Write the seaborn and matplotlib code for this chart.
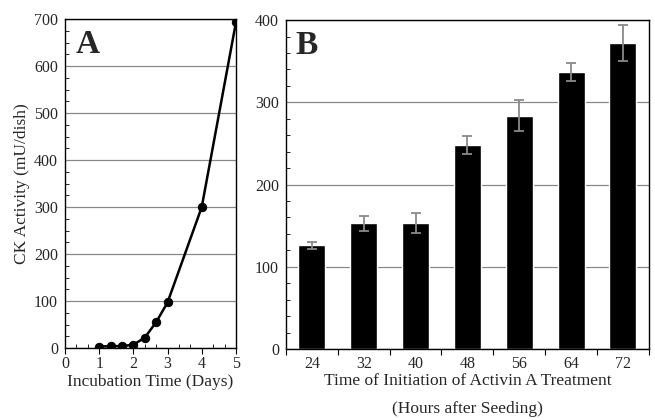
import numpy as np
import pandas as pd
import matplotlib
matplotlib.use('Agg')
import matplotlib.pyplot as plt
import seaborn as sns
from matplotlib.ticker import MultipleLocator, FixedLocator

# Panel A data
days = [1, 1.333, 1.667, 2, 2.333, 2.667, 3, 4, 5]
ck_activity = [3, 4, 4, 7, 22, 55, 97, 300, 693]

# Panel B data
hours = ['24', '32', '40', '48', '56', '64', '72']
ck_treat = [126, 153, 153, 248, 284, 337, 372]
ck_err = [4, 9, 12, 11, 19, 11, 22]

sns.set_style('white')
plt.rcParams['font.family'] = ['Liberation Serif', 'DejaVu Serif']
plt.rcParams['font.size'] = 11

fig = plt.figure(figsize=(6.55, 4.2), dpi=100)
axA = fig.add_axes([0.0992, 0.1714, 0.261, 0.783])
axB = fig.add_axes([0.4366, 0.169, 0.554, 0.783])

# Panel A
dfA = pd.DataFrame({'days': days, 'ck': ck_activity})
sns.lineplot(data=dfA, x='days', y='ck', ax=axA, color='black', linewidth=1.8,
             marker='o', markersize=6, markeredgecolor='black', zorder=3)
axA.set_xlim(0, 5)
axA.set_ylim(0, 700)
axA.xaxis.set_major_locator(MultipleLocator(1))
axA.xaxis.set_minor_locator(MultipleLocator(1 / 3))
axA.yaxis.set_major_locator(MultipleLocator(100))
axA.yaxis.set_minor_locator(MultipleLocator(25))
axA.grid(axis='y', which='major', color='#888888', linewidth=0.9)
axA.set_xlabel('Incubation Time (Days)', fontsize=12.5, labelpad=1)
axA.set_ylabel('CK Activity (mU/dish)', fontsize=12.5, labelpad=3)
axA.text(0.06, 0.97, 'A', transform=axA.transAxes, fontsize=24,
         fontweight='bold', va='top', ha='left')

# Panel B
dfB = pd.DataFrame({'hours': hours, 'ck': ck_treat})
sns.barplot(data=dfB, x='hours', y='ck', ax=axB, color='black',
            width=0.52, errorbar=None, saturation=1)
axB.errorbar(x=np.arange(len(hours)), y=ck_treat, yerr=ck_err, fmt='none',
             ecolor='#8a8a8a', elinewidth=1.3, capsize=3.5, capthick=1.3, zorder=4)
axB.set_xlim(-0.5, len(hours) - 0.5)
axB.set_ylim(0, 400)
axB.yaxis.set_major_locator(MultipleLocator(100))
axB.yaxis.set_minor_locator(MultipleLocator(20))
axB.xaxis.set_minor_locator(FixedLocator(np.arange(len(hours) + 1) - 0.5))
axB.grid(axis='y', which='major', color='#888888', linewidth=0.9)
axB.set_axisbelow(True)
axB.set_xlabel('Time of Initiation of Activin A Treatment\n(Hours after Seeding)',
               fontsize=12.5, labelpad=1, linespacing=1.95)
axB.set_ylabel('')
axB.text(0.025, 0.97, 'B', transform=axB.transAxes, fontsize=24,
         fontweight='bold', va='top', ha='left')

for ax in (axA, axB):
    for s in ax.spines.values():
        s.set_visible(True)
        s.set_color('black')
        s.set_linewidth(1.0)
    ax.tick_params(which='major', axis='y', direction='out', length=4,
                   width=0.8, color='black', labelsize=11.5, pad=1)
    ax.tick_params(which='minor', axis='y', direction='in', length=3,
                   width=0.6, color='black', left=True)
    ax.tick_params(axis='x', labelsize=11.5, pad=2)

axA.tick_params(which='major', axis='x', direction='out', length=4,
                width=0.8, color='black', bottom=True)
axA.tick_params(which='minor', axis='x', direction='in', length=3,
                width=0.6, color='black', bottom=True)
axB.tick_params(which='major', axis='x', length=0, pad=5)
axB.tick_params(which='minor', axis='x', direction='out', length=4,
                width=0.8, color='black', bottom=True)

fig.savefig('out.png', dpi=100)
